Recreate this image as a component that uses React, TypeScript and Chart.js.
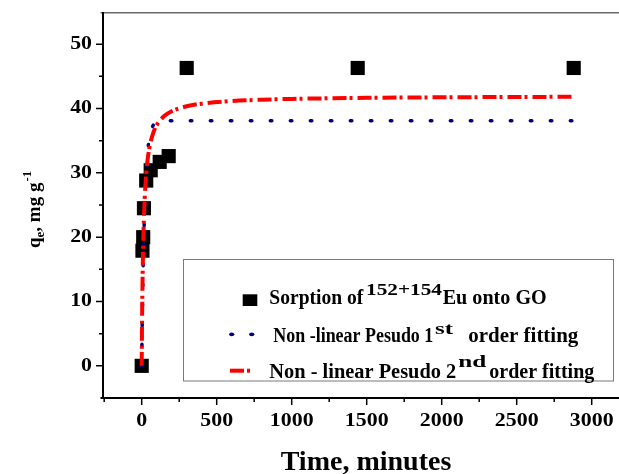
import React, { useEffect, useRef } from "react";
import { Chart, registerables } from "chart.js";

Chart.register(...registerables);

// Measured sorption data (time in minutes, q_e in mg/g)
const sorptionTime = [0, 5, 10, 15, 30, 60, 120, 180, 300, 1440, 2880];
const sorptionQ = [0, 17.9, 20.0, 24.5, 28.8, 30.4, 31.7, 32.6, 46.3, 46.3, 46.3];

// Fitted curves
const fitTime = [0, 2, 5, 10, 15, 20, 30, 40, 50, 60, 80, 100, 150, 200, 300, 400, 600, 800, 1000, 1500, 2000, 2500, 2880];
const pfoQ = [0, 3.77, 8.72, 15.45, 20.64, 24.63, 30.1, 33.34, 35.27, 36.42, 37.51, 37.89, 38.08, 38.1, 38.1, 38.1, 38.1, 38.1, 38.1, 38.1, 38.1, 38.1, 38.1];
const psoQ = [0, 5.89, 12.16, 18.86, 23.1, 26.03, 29.81, 32.14, 33.72, 34.87, 36.41, 37.41, 38.82, 39.57, 40.35, 40.75, 41.16, 41.37, 41.49, 41.66, 41.74, 41.79, 41.82];

// Axis ticks
const xMajorTicks = [0, 500, 1000, 1500, 2000, 2500, 3000];
const xMinorTicks = [-250, 250, 750, 1250, 1750, 2250, 2750];
const yMajorTicks = [0, 10, 20, 30, 40, 50];
const yMinorTicks = [5, 15, 25, 35, 45];

const xTitle = "Time, minutes";
const legendLabels = ["Sorption of", "152+154", "Eu onto GO"];
const legend1st = ["Non -linear Pesudo 1", "st", "order fitting"];
const legend2nd = ["Non - linear Pesudo 2", "nd", "order fitting"];

const SERIF = '"Liberation Serif", "Times New Roman", serif';
const f = (size: number) => `bold ${size}px ${SERIF}`;

function fitText(ctx: CanvasRenderingContext2D, text: string, x: number, y: number, font: string, w: number) {
  ctx.font = font;
  const m = ctx.measureText(text).width;
  ctx.save();
  ctx.translate(x, y);
  ctx.scale(w / m, 1);
  ctx.textAlign = "left";
  ctx.textBaseline = "alphabetic";
  ctx.fillText(text, 0, 0);
  ctx.restore();
}

function stretchText(ctx: CanvasRenderingContext2D, text: string, x: number, y: number, sx: number, align: string) {
  ctx.save();
  ctx.translate(x, y);
  ctx.scale(sx, 1);
  ctx.textAlign = align as CanvasTextAlign;
  ctx.textBaseline = "middle";
  ctx.fillText(text, 0, 0);
  ctx.restore();
}

const decorPlugin = {
  id: "decor",
  afterDraw(chart: any) {
    const ctx: CanvasRenderingContext2D = chart.ctx;
    const { left, right, top, bottom } = chart.chartArea;
    const xs = chart.scales.x;
    const ys = chart.scales.y;
    ctx.save();
    // top border
    ctx.strokeStyle = "#6a6a6a";
    ctx.lineWidth = 1.5;
    ctx.beginPath();
    ctx.moveTo(left - 2.5, top + 0.75);
    ctx.lineTo(right, top + 0.75);
    ctx.stroke();
    // axes
    ctx.strokeStyle = "#000";
    ctx.lineWidth = 2;
    ctx.beginPath();
    ctx.moveTo(left, top);
    ctx.lineTo(left, bottom);
    ctx.moveTo(left - 2.5, bottom);
    ctx.lineTo(right, bottom);
    ctx.stroke();
    // ticks
    ctx.lineWidth = 1.5;
    ctx.beginPath();
    xMajorTicks.forEach((v) => {
      const px = xs.getPixelForValue(v);
      ctx.moveTo(px, bottom);
      ctx.lineTo(px, bottom + 7);
    });
    xMinorTicks.forEach((v) => {
      const px = xs.getPixelForValue(v);
      ctx.moveTo(px, bottom);
      ctx.lineTo(px, bottom + 4);
    });
    yMajorTicks.forEach((v) => {
      const py = ys.getPixelForValue(v);
      ctx.moveTo(left, py);
      ctx.lineTo(left - 7, py);
    });
    yMinorTicks.forEach((v) => {
      const py = ys.getPixelForValue(v);
      ctx.moveTo(left, py);
      ctx.lineTo(left - 4, py);
    });
    ctx.stroke();

    // tick labels
    ctx.fillStyle = "#000";
    ctx.font = f(19);
    xMajorTicks.forEach((v) => {
      stretchText(ctx, String(v), xs.getPixelForValue(v), bottom + 23.5, 1.15, "center");
    });
    yMajorTicks.forEach((v) => {
      stretchText(ctx, String(v), left - 11, ys.getPixelForValue(v), 1.15, "right");
    });

    // x title
    ctx.font = f(28);
    ctx.textAlign = "center";
    ctx.textBaseline = "alphabetic";
    ctx.fillText(xTitle, 366, 470);

    // y title (rotated) q_e, mg g^-1
    ctx.save();
    ctx.translate(40, 248);
    ctx.rotate(-Math.PI / 2);
    ctx.textAlign = "left";
    ctx.textBaseline = "alphabetic";
    let u = 0;
    ctx.font = f(19);
    ctx.fillText("q", u, 0);
    u += ctx.measureText("q").width;
    ctx.font = f(13);
    ctx.fillText("e", u, 4);
    u += ctx.measureText("e").width;
    ctx.font = f(19);
    ctx.fillText(", mg g", u, 0);
    u += ctx.measureText(", mg g").width;
    ctx.font = f(13);
    ctx.fillText("-1", u + 1, -9);
    ctx.restore();

    // legend box
    ctx.fillStyle = "#fff";
    ctx.fillRect(183.5, 259.5, 430, 121.5);
    ctx.strokeStyle = "#7a7a7a";
    ctx.lineWidth = 1;
    ctx.strokeRect(183.5, 259.5, 430, 121.5);

    // legend markers
    ctx.fillStyle = "#000";
    ctx.fillRect(242.7, 294.3, 14.6, 11.7);
    ctx.fillStyle = "#000080";
    [231.7, 251.7].forEach((cx) => {
      ctx.beginPath();
      ctx.ellipse(cx, 334.3, 2.6, 1.9, 0, 0, Math.PI * 2);
      ctx.fill();
    });
    ctx.fillStyle = "#ff0000";
    ctx.fillRect(230, 368.7, 14, 4);
    ctx.fillRect(247, 368.7, 3, 4);

    // legend texts
    ctx.fillStyle = "#000";
    fitText(ctx, legendLabels[0], 269.3, 304, f(20), 94);
    fitText(ctx, legendLabels[1], 366, 295, f(17), 76);
    fitText(ctx, legendLabels[2], 442.7, 304, f(20), 104);

    fitText(ctx, legend1st[0], 273.3, 342, f(20), 160);
    fitText(ctx, legend1st[1], 435, 334, f(16), 18);
    fitText(ctx, legend1st[2], 468.3, 342, f(20), 110);

    fitText(ctx, legend2nd[0], 269.3, 378, f(20), 187);
    fitText(ctx, legend2nd[1], 458.3, 367, f(16), 28);
    fitText(ctx, legend2nd[2], 489.3, 378, f(20), 105);

    ctx.restore();
  },
};

export default function App() {
  const ref = useRef<HTMLCanvasElement | null>(null);

  useEffect(() => {
    if (!ref.current) return;
    const chart = new Chart(ref.current, {
      type: "scatter",
      data: {
        datasets: [
          {
            label: "Non - linear Pesudo 2nd order fitting",
            data: fitTime.map((t, i) => ({ x: t, y: psoQ[i] })),
            showLine: true,
            borderColor: "#ff0000",
            backgroundColor: "#ff0000",
            borderWidth: 4,
            borderDash: [14, 3, 3, 5],
            pointRadius: 0,
            cubicInterpolationMode: "monotone",
            fill: false,
          },
          {
            label: "Non -linear Pesudo 1st order fitting",
            data: fitTime.map((t, i) => ({ x: t, y: pfoQ[i] })),
            showLine: true,
            borderColor: "#000080",
            backgroundColor: "#000080",
            borderWidth: 3.5,
            borderDash: [1.5, 18.5],
            borderCapStyle: "round",
            pointRadius: 0,
            cubicInterpolationMode: "monotone",
            fill: false,
          },
          {
            label: "Sorption of 152+154Eu onto GO",
            data: sorptionTime.map((t, i) => ({ x: t, y: sorptionQ[i] })),
            showLine: false,
            pointStyle: "rect",
            pointRadius: 10,
            backgroundColor: "#000",
            borderColor: "#000",
            borderWidth: 0,
          },
        ],
      } as any,
      options: {
        animation: false,
        responsive: false,
        events: [],
        layout: { autoPadding: false, padding: { top: 12, right: 0, left: 0, bottom: 0 } },
        plugins: { legend: { display: false }, tooltip: { enabled: false } },
        scales: {
          x: {
            type: "linear",
            min: -258,
            max: 3182,
            grid: { display: false, drawTicks: false },
            border: { display: false },
            ticks: { display: false },
            afterFit: (s: any) => {
              s.height = 76;
              s.paddingLeft = 0;
              s.paddingRight = 0;
            },
          },
          y: {
            type: "linear",
            min: -5,
            max: 55,
            grid: { display: false, drawTicks: false },
            border: { display: false },
            ticks: { display: false },
            afterFit: (s: any) => {
              s.width = 103;
              s.paddingTop = 0;
              s.paddingBottom = 0;
            },
          },
        },
      } as any,
      plugins: [decorPlugin],
    });
    return () => chart.destroy();
  }, []);

  return (
    <div style={{ position: "absolute", left: 0, top: 0, width: 619, height: 474, background: "#fff" }}>
      <canvas ref={ref} width={619} height={474} style={{ display: "block" }} />
    </div>
  );
}
